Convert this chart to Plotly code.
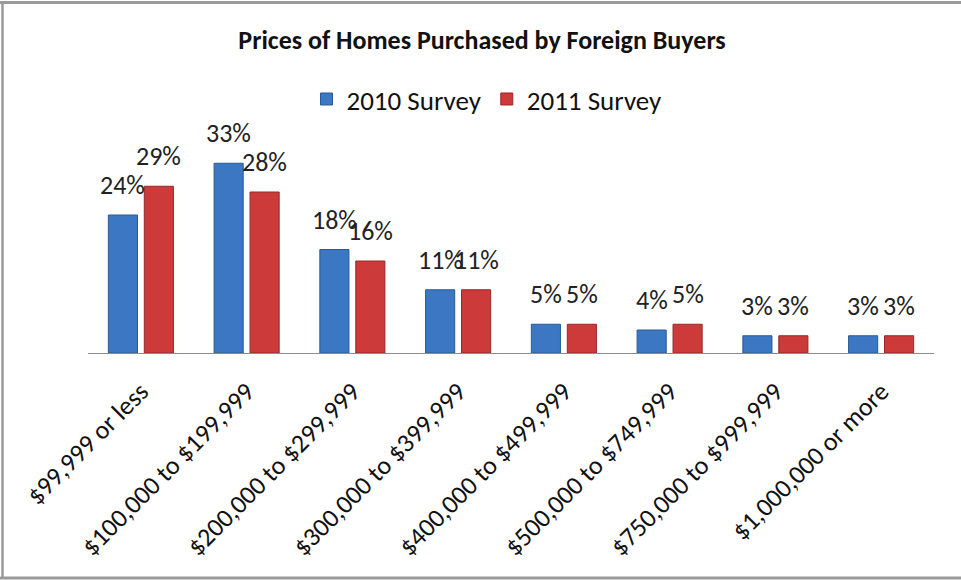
import plotly.graph_objects as go

categories = ["$99,999 or less", "$100,000 to $199,999", "$200,000 to $299,999",
              "$300,000 to $399,999", "$400,000 to $499,999", "$500,000 to $749,999",
              "$750,000 to $999,999", "$1,000,000 or more"]
survey_2010 = [24, 33, 18, 11, 5, 4, 3, 3]
survey_2011 = [29, 28, 16, 11, 5, 5, 3, 3]
series_names = ["2010 Survey", "2011 Survey"]

W, H = 961, 580
L, R = 88, 934
BASE = 353
YMAX = 40
PX_PER = 5.76
TOP = BASE - YMAX * PX_PER

FONT = "Carlito, Lato, sans-serif"

fig = go.Figure()
fig.add_trace(go.Bar(x=categories, y=survey_2010, name=series_names[0],
                     marker=dict(color="#3B77C2", line=dict(color="#2A5A96", width=1))))
fig.add_trace(go.Bar(x=categories, y=survey_2011, name=series_names[1],
                     marker=dict(color="#CC3A3A", line=dict(color="#982828", width=1))))

annotations = []
for vals, shift in ((survey_2010, -18), (survey_2011, 18)):
    for c, v in zip(categories, vals):
        annotations.append(dict(x=c, y=v, xref="x", yref="y", text=f"{v}%",
                                showarrow=False, xshift=shift, yanchor="bottom",
                                yshift=12, font=dict(family=FONT, size=26, color="#222")))

def px_x(p):
    return (p - L) / (R - L)

def px_y(p):
    return (BASE - p) / (BASE - TOP)

shapes = [
    dict(type="line", xref="paper", yref="paper", x0=px_x(0), x1=px_x(W), y0=px_y(2), y1=px_y(2),
         line=dict(color="#9a9a9a", width=3)),
    dict(type="line", xref="paper", yref="paper", x0=px_x(0), x1=px_x(W), y0=px_y(578.5), y1=px_y(578.5),
         line=dict(color="#9a9a9a", width=3)),
    dict(type="line", xref="paper", yref="paper", x0=px_x(2.5), x1=px_x(2.5), y0=px_y(1), y1=px_y(579),
         line=dict(color="#9a9a9a", width=2.5)),
]

fig.update_layout(
    width=W, height=H,
    margin=dict(l=L, r=W - R, t=TOP, b=H - BASE, autoexpand=False),
    paper_bgcolor="white", plot_bgcolor="white",
    barmode="group", bargap=0.32, bargroupgap=0.19,
    title=dict(text="<b>Prices of Homes Purchased by Foreign Buyers</b>",
               x=482 / W, xanchor="center", y=1 - 40 / H, yanchor="middle",
               font=dict(family=FONT, size=26, color="#111")),
    legend=dict(orientation="h", x=px_x(487), xanchor="center", y=px_y(99), yanchor="middle",
                font=dict(family=FONT, size=27, color="#111"), traceorder="normal",
                itemwidth=30),
    xaxis=dict(showline=True, linecolor="#8c8c8c", linewidth=1, ticks="",
               tickangle=-45, tickfont=dict(family=FONT, size=26, color="#111"),
               showgrid=False, ticklabelstandoff=12),
    yaxis=dict(range=[0, YMAX], visible=False, showgrid=False, zeroline=False),
    annotations=annotations,
    shapes=shapes,
    showlegend=True,
)

fig.write_html("out.html", config={"displayModeBar": False},
               post_script="document.body.style.margin='0';document.body.style.overflow='hidden';")
